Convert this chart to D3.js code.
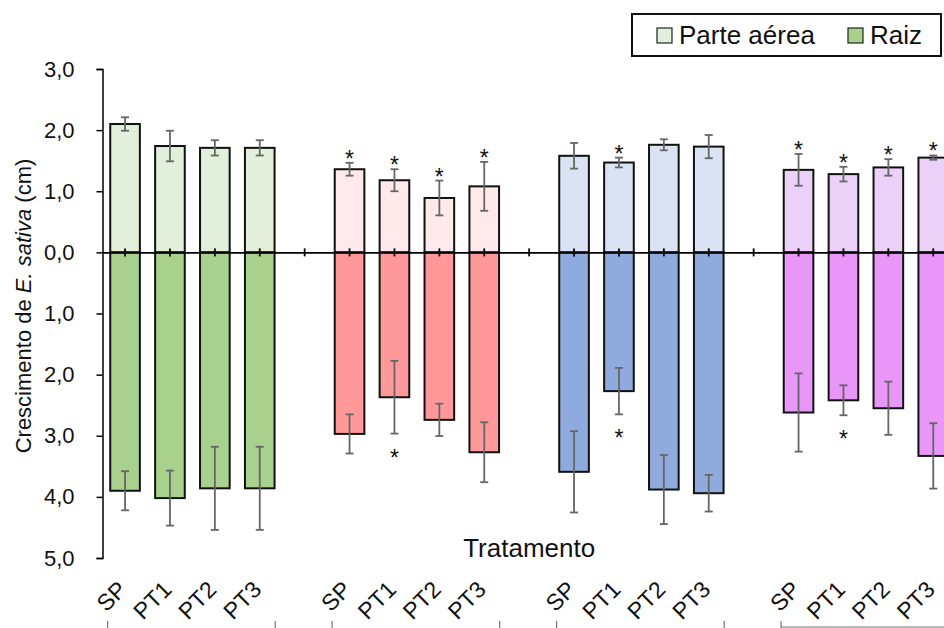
<!DOCTYPE html>
<html>
<head>
<meta charset="utf-8">
<script src="https://cdn.jsdelivr.net/npm/d3@7"></script>
<style>
  body { margin: 0; background: #fff; }
  svg { font-family: "Liberation Sans", Arial, sans-serif; display: block; }
</style>
</head>
<body>
<div id="chart"></div>
<script>
const WIDTH = 944
const HEIGHT = 628

// treatments inside each group, and the 4 groups (colour sets)
var treatments = ["SP", "PT1", "PT2", "PT3"]
var groups = ["g1", "g2", "g3", "g4"]

// parte aérea (shoot) means and error, per group
var shoot = [[2.10, 1.74, 1.71, 1.71], [1.36, 1.18, 0.89, 1.08], [1.58, 1.47, 1.76, 1.73], [1.35, 1.28, 1.39, 1.55]]
var shootErr = [[0.11, 0.25, 0.125, 0.125], [0.105, 0.18, 0.285, 0.40], [0.21, 0.08, 0.09, 0.19], [0.26, 0.12, 0.135, 0.035]]
// raiz (root) means and error, drawn downwards
var root = [[3.90, 4.02, 3.86, 3.86], [2.97, 2.37, 2.74, 3.27], [3.59, 2.27, 3.88, 3.94], [2.62, 2.42, 2.55, 3.33]]
var rootErr = [[0.32, 0.45, 0.68, 0.68], [0.32, 0.595, 0.265, 0.49], [0.665, 0.38, 0.565, 0.30], [0.64, 0.245, 0.435, 0.535]]
// significance marks
var shootStar = [[0, 0, 0, 0], [1, 1, 1, 1], [0, 1, 0, 0], [1, 1, 1, 1]]
var rootStar = [[0, 0, 0, 0], [0, 1, 0, 0], [0, 1, 0, 0], [0, 1, 0, 0]]

var lightColors = ["#e2efda", "#ffe9ea", "#dae3f3", "#ebd1f8"]
var darkColors = ["#a9d18e", "#ff9999", "#8faadc", "#e896f8"]

var yTicks = [3, 2, 1, 0, -1, -2, -3, -4, -5]

var legendItems = ["Parte aérea", "Raiz"]

//build slot list: 4 bars per group + one empty slot between groups
var slots = []
var bars = []
groups.forEach(function(g, gi) {
	treatments.forEach(function(t, ti) {
		var key = g + "-" + t
		slots.push(key)
		bars.push({
			key: key, group: gi, t: t,
			shoot: shoot[gi][ti], shootErr: shootErr[gi][ti],
			root: root[gi][ti], rootErr: rootErr[gi][ti],
			shootStar: shootStar[gi][ti], rootStar: rootStar[gi][ti]
		})
	})
	if (gi < groups.length - 1) slots.push("gap" + gi)
})

var svg = d3.select("#chart").append("svg")
	.attr("width", WIDTH)
	.attr("height", HEIGHT)

var step = 44.9
var x0 = 102.6
var x = d3.scaleBand()
	.domain(slots)
	.range([x0, x0 + step * slots.length])
	.padding(0)

var y = d3.scaleLinear()
	.domain([3, -5])
	.range([69, 558])

var barW = x.bandwidth() * 0.66
function cx(key) { return x(key) + x.bandwidth() / 2 }

// y axis
var yAxis = svg.append("g")
	.attr("transform", "translate(" + 102.5 + ",0)")
	.call(d3.axisLeft(y).tickValues(yTicks).tickSize(6).tickPadding(22)
		.tickFormat(function(d) { return d3.format(".1f")(Math.abs(d)).replace(".", ",") }))
yAxis.select(".domain").attr("stroke", "#000").attr("stroke-width", 1.5)
yAxis.selectAll(".tick line").attr("stroke", "#000").attr("stroke-width", 1.5)
yAxis.selectAll(".tick text")
	.attr("font-size", 22)
	.attr("fill", "#111")
	.attr("font-family", "Liberation Sans, Arial, sans-serif")

// bars - parte aérea
svg.selectAll("rect.shoot")
	.data(bars)
	.enter()
	.append("rect")
	.attr("class", "shoot")
	.attr("x", function(d) { return cx(d.key) - barW / 2 })
	.attr("y", function(d) { return y(d.shoot) })
	.attr("width", barW)
	.attr("height", function(d) { return y(0) - y(d.shoot) })
	.style("fill", function(d) { return lightColors[d.group] })
	.style("stroke", "#111")
	.style("stroke-width", 2)

// bars - raiz
svg.selectAll("rect.root")
	.data(bars)
	.enter()
	.append("rect")
	.attr("class", "root")
	.attr("x", function(d) { return cx(d.key) - barW / 2 })
	.attr("y", y(0))
	.attr("width", barW)
	.attr("height", function(d) { return y(-d.root) - y(0) })
	.style("fill", function(d) { return darkColors[d.group] })
	.style("stroke", "#111")
	.style("stroke-width", 2)

// error bars
function drawErr(cls, lo, hi) {
	var g = svg.selectAll("g." + cls)
		.data(bars)
		.enter()
		.append("g")
		.attr("class", cls)
		.attr("stroke", "#666")
		.attr("stroke-width", 1.8)
	g.append("line")
		.attr("x1", function(d) { return cx(d.key) })
		.attr("x2", function(d) { return cx(d.key) })
		.attr("y1", function(d) { return y(lo(d)) })
		.attr("y2", function(d) { return y(hi(d)) })
	;[lo, hi].forEach(function(f) {
		g.append("line")
			.attr("x1", function(d) { return cx(d.key) - 4 })
			.attr("x2", function(d) { return cx(d.key) + 4 })
			.attr("y1", function(d) { return y(f(d)) })
			.attr("y2", function(d) { return y(f(d)) })
	})
}
drawErr("errShoot", function(d) { return d.shoot - d.shootErr }, function(d) { return d.shoot + d.shootErr })
drawErr("errRoot", function(d) { return -d.root + d.rootErr }, function(d) { return -d.root - d.rootErr })

// asterisks
svg.selectAll("text.starTop")
	.data(bars.filter(function(d) { return d.shootStar }))
	.enter()
	.append("text")
	.attr("class", "starTop")
	.attr("x", function(d) { return cx(d.key) })
	.attr("y", function(d) { return y(d.shoot + d.shootErr) + 4 })
	.attr("text-anchor", "middle")
	.attr("font-size", 23)
	.attr("fill", "#111")
	.text("*")

svg.selectAll("text.starBot")
	.data(bars.filter(function(d) { return d.rootStar }))
	.enter()
	.append("text")
	.attr("class", "starBot")
	.attr("x", function(d) { return cx(d.key) })
	.attr("y", function(d) { return y(-d.root - d.rootErr) + 32 })
	.attr("text-anchor", "middle")
	.attr("font-size", 23)
	.attr("fill", "#111")
	.text("*")

// zero line with category ticks crossing it
var xAxis = svg.append("g")
	.attr("transform", "translate(0," + y(0) + ")")
	.call(d3.axisBottom(x).tickSize(4).tickSizeOuter(0).tickFormat(""))
xAxis.select(".domain").attr("stroke", "#000").attr("stroke-width", 1.8)
xAxis.selectAll(".tick line").attr("y1", -4).attr("stroke", "#000").attr("stroke-width", 1.8)

// category labels
svg.selectAll("text.cat")
	.data(bars)
	.enter()
	.append("text")
	.attr("class", "cat")
	.attr("transform", function(d) { return "translate(" + (cx(d.key) + 3) + ",591) rotate(-45)" })
	.attr("text-anchor", "end")
	.attr("font-size", 23)
	.attr("fill", "#111")
	.text(function(d) { return d.t })

// group brackets at the bottom (mostly cut off)
groups.forEach(function(g, gi) {
	var a = x(g + "-SP") + 5
	var b = x(g + "-PT3") + x.bandwidth() - 7
	svg.append("line").attr("x1", a).attr("x2", a).attr("y1", 621).attr("y2", 628)
		.attr("stroke", "#777").attr("stroke-width", 1.2)
	if (gi < groups.length - 1) {
		svg.append("line").attr("x1", b).attr("x2", b).attr("y1", 621).attr("y2", 628)
			.attr("stroke", "#777").attr("stroke-width", 1.2)
	} else {
		svg.append("line").attr("x1", a).attr("x2", WIDTH).attr("y1", 627).attr("y2", 627)
			.attr("stroke", "#777").attr("stroke-width", 1.2)
	}
})

// axis titles
svg.append("text")
	.attr("x", (x.range()[0] + x.range()[1]) / 2)
	.attr("y", 557)
	.attr("text-anchor", "middle")
	.attr("font-size", 26)
	.attr("fill", "#111")
	.text("Tratamento")

var yt = svg.append("text")
	.attr("transform", "translate(31,306) rotate(-90)")
	.attr("text-anchor", "middle")
	.attr("font-size", 22)
	.attr("fill", "#111")
yt.append("tspan").text("Crescimento de ")
yt.append("tspan").attr("font-style", "italic").text("E. sativa")
yt.append("tspan").text(" (cm)")

// legend
var legend = svg.append("g")
legend.append("rect")
	.attr("x", 632).attr("y", 14)
	.attr("width", 309).attr("height", 42)
	.attr("fill", "#fff")
	.attr("stroke", "#111")
	.attr("stroke-width", 2)
var legX = [657, 848]
legendItems.forEach(function(name, i) {
	legend.append("rect")
		.attr("x", legX[i]).attr("y", 28)
		.attr("width", 15).attr("height", 15)
		.attr("fill", i == 0 ? lightColors[0] : darkColors[0])
		.attr("stroke", "#222")
		.attr("stroke-width", 1.2)
	legend.append("text")
		.attr("x", legX[i] + 22).attr("y", 44)
		.attr("font-size", 26)
		.attr("fill", "#111")
		.text(name)
})
</script>
</body>
</html>
